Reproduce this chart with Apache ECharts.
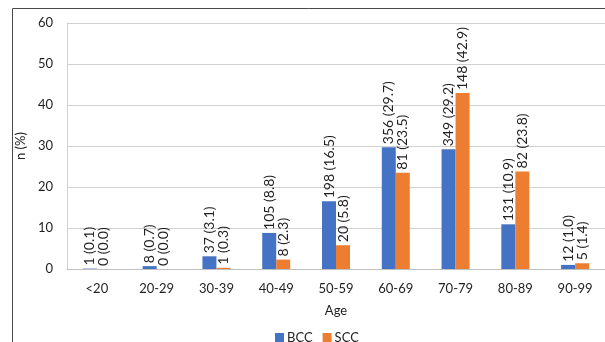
<!DOCTYPE html>
<html>
<head>
<meta charset="utf-8">
<script src="https://cdn.jsdelivr.net/npm/echarts@6/dist/echarts.min.js"></script>
<style>
  html, body { margin: 0; padding: 0; background: #fff; }
  #chart { width: 605px; height: 342px; }
</style>
</head>
<body>
<div id="chart"></div>
<script>
// Age groups and case counts / percentages per tumour type
const ageGroups = ['<20', '20-29', '30-39', '40-49', '50-59', '60-69', '70-79', '80-89', '90-99'];
const bccCounts = [1, 8, 37, 105, 198, 356, 349, 131, 12];
const bccPercent = [0.1, 0.7, 3.1, 8.8, 16.5, 29.7, 29.2, 10.9, 1.0];
const sccCounts = [0, 0, 1, 8, 20, 81, 148, 82, 5];
const sccPercent = [0.0, 0.0, 0.3, 2.3, 5.8, 23.5, 42.9, 23.8, 1.4];
const yTicks = [0, 10, 20, 30, 40, 50, 60];

const FONT = 'Lato, "Open Sans", sans-serif';
const TEXT = '#1f1f1f';

function labelFor(counts, pcts) {
  return {
    show: true,
    position: 'top',
    rotate: 90,
    align: 'left',
    verticalAlign: 'middle',
    distance: 3,
    fontFamily: FONT,
    fontSize: 14,
    color: TEXT,
    formatter: p => counts[p.dataIndex] + ' (' + pcts[p.dataIndex].toFixed(1) + ')'
  };
}

const chart = echarts.init(document.getElementById('chart'), null, { renderer: 'canvas' });
chart.setOption({
  animation: false,
  backgroundColor: '#fff',
  textStyle: { fontFamily: FONT, color: TEXT },
  grid: { left: 67, right: 0, top: 23, bottom: 73, containLabel: false },
  legend: {
    data: ['BCC', 'SCC'],
    top: 326,
    left: 270,
    itemWidth: 9,
    itemHeight: 9,
    itemGap: 10,
    icon: 'rect',
    textStyle: { fontFamily: FONT, fontSize: 13, color: TEXT, padding: [0, 0, 0, -2] }
  },
  xAxis: {
    type: 'category',
    data: ageGroups,
    name: 'Age',
    nameLocation: 'middle',
    nameGap: 35,
    nameTextStyle: { fontFamily: FONT, fontSize: 13, color: TEXT },
    axisTick: { show: false },
    axisLine: { lineStyle: { color: '#bfbfbf', width: 1 } },
    axisLabel: { fontFamily: FONT, fontSize: 13, color: TEXT, margin: 13 }
  },
  yAxis: {
    type: 'value',
    min: yTicks[0],
    max: yTicks[yTicks.length - 1],
    interval: 10,
    name: 'n (%)',
    nameLocation: 'middle',
    nameGap: 28,
    nameRotate: 90,
    nameTextStyle: { fontFamily: FONT, fontSize: 13, color: TEXT },
    axisLine: { show: true, lineStyle: { color: '#d0d0d0', width: 1 } },
    axisTick: { show: false },
    splitLine: { lineStyle: { color: '#d0d0d0', width: 1 } },
    axisLabel: { fontFamily: FONT, fontSize: 13, color: TEXT, margin: 14 }
  },
  graphic: [
    {
      type: 'polyline',
      silent: true,
      shape: { points: [[12.5, 342], [12.5, 8.5], [605, 8.5]] },
      style: { stroke: '#4a4a4a', lineWidth: 1, fill: null }
    }
  ],
  series: [
    {
      name: 'BCC',
      type: 'bar',
      data: bccPercent,
      barWidth: 14,
      barGap: '0%',
      itemStyle: { color: '#4472C4' },
      label: labelFor(bccCounts, bccPercent)
    },
    {
      name: 'SCC',
      type: 'bar',
      data: sccPercent,
      barWidth: 14,
      barGap: '0%',
      itemStyle: { color: '#ED7D31' },
      label: labelFor(sccCounts, sccPercent)
    }
  ]
});
</script>
</body>
</html>
